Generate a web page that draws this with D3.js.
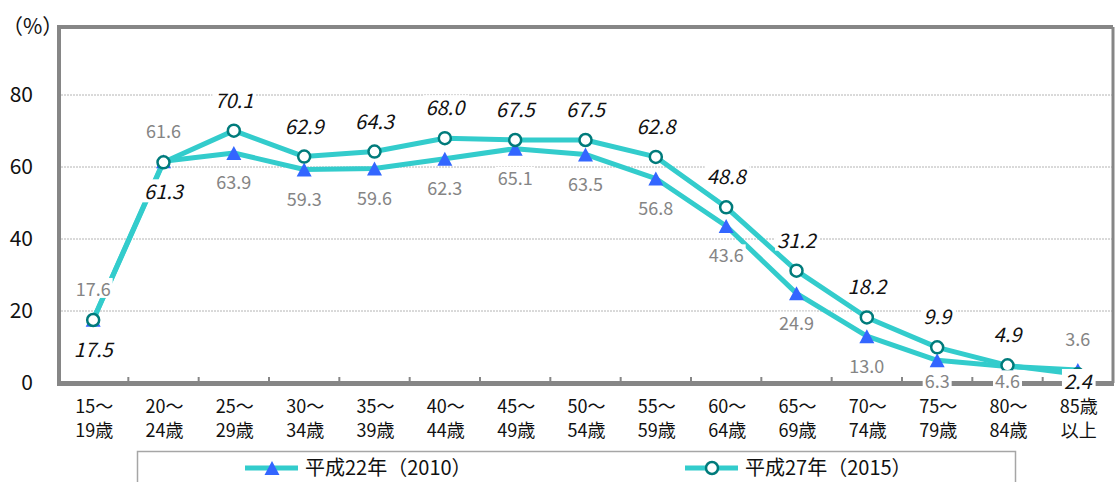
<!DOCTYPE html>
<html>
<head>
<meta charset="utf-8">
<script src="https://cdn.jsdelivr.net/npm/d3@7"></script>
<style>
  body { margin: 0; background: #fff; }
  svg { display: block; font-family: "Noto Sans CJK JP", "Noto Sans", sans-serif; }
</style>
</head>
<body>
<svg id="chart" width="1115" height="482"></svg>
<script>
// categories (two-line tick labels)
var ageTop = ["15～", "20～", "25～", "30～", "35～", "40～", "45～", "50～", "55～", "60～", "65～", "70～", "75～", "80～", "85歳"];
var ageBottom = ["19歳", "24歳", "29歳", "34歳", "39歳", "44歳", "49歳", "54歳", "59歳", "64歳", "69歳", "74歳", "79歳", "84歳", "以上"];

// series values (%)
var h22 = [17.6, 61.6, 63.9, 59.3, 59.6, 62.3, 65.1, 63.5, 56.8, 43.6, 24.9, 13.0, 6.3, 4.6, 3.6];
var h27 = [17.5, 61.3, 70.1, 62.9, 64.3, 68.0, 67.5, 67.5, 62.8, 48.8, 31.2, 18.2, 9.9, 4.9, 2.4];

var seriesNames = ["平成22年（2010）", "平成27年（2015）"];
var yTicks = [0, 20, 40, 60, 80];

// colours
var lineColour = '#33CCCC';
var triColour = '#3366FF';
var circleStroke = '#007B7B';
var frameColour = '#868686';
var gridColour = '#b4b4b4';
var grayText = '#858585';

// plot area
var plotLeft = 58, plotRight = 1113, plotTop = 27, plotBottom = 383;

var svg = d3.select("#chart");

var x = d3.scaleBand()
  .domain(d3.range(ageTop.length))
  .range([plotLeft, plotRight])
  .paddingInner(0).paddingOuter(0);
function cx(i) { return x(i) + x.bandwidth() / 2; }

var y = d3.scaleLinear().domain([0, 100]).range([plotBottom, plotBottom - 360]);

// gridlines
svg.append("g").selectAll("line")
  .data(yTicks.filter(function (d) { return d > 0; }))
  .enter().append("line")
  .attr("x1", plotLeft).attr("x2", plotRight)
  .attr("y1", function (d) { return y(d); })
  .attr("y2", function (d) { return y(d); })
  .attr("stroke", gridColour)
  .attr("stroke-width", 1)
  .attr("stroke-dasharray", "2,1");

// y tick labels
svg.append("g").selectAll("text")
  .data(yTicks)
  .enter().append("text")
  .attr("x", 33)
  .attr("y", function (d) { return y(d); })
  .attr("dy", "0.35em")
  .attr("text-anchor", "end")
  .attr("font-size", 21)
  .attr("fill", "#111")
  .text(function (d) { return d; });

svg.append("text")
  .attr("x", 2).attr("y", plotTop).attr("dy", "0.35em")
  .attr("font-size", 21).attr("fill", "#111")
  .text("（%）");

// frame
svg.append("line").attr("x1", plotLeft).attr("x2", plotRight).attr("y1", plotTop).attr("y2", plotTop)
  .attr("stroke", frameColour).attr("stroke-width", 4);
svg.append("line").attr("x1", plotRight).attr("x2", plotRight).attr("y1", plotTop).attr("y2", plotBottom)
  .attr("stroke", frameColour).attr("stroke-width", 3);
svg.append("line").attr("x1", plotLeft + 1).attr("x2", plotLeft + 1).attr("y1", plotTop - 2).attr("y2", plotBottom + 3)
  .attr("stroke", frameColour).attr("stroke-width", 4);
svg.append("line").attr("x1", plotLeft - 1).attr("x2", plotRight + 1).attr("y1", plotBottom + 0.5).attr("y2", plotBottom + 0.5)
  .attr("stroke", frameColour).attr("stroke-width", 5);

// x ticks (inside, at category boundaries)
svg.append("g").selectAll("line")
  .data(d3.range(1, ageTop.length))
  .enter().append("line")
  .attr("x1", function (i) { return x(i); })
  .attr("x2", function (i) { return x(i); })
  .attr("y1", plotBottom - 6).attr("y2", plotBottom)
  .attr("stroke", frameColour).attr("stroke-width", 2);

// x tick labels
var xl = svg.append("g").selectAll("text")
  .data(d3.range(ageTop.length))
  .enter().append("text")
  .attr("text-anchor", "middle")
  .attr("font-size", 18)
  .attr("fill", "#111");
xl.append("tspan").attr("x", function (i) { return cx(i) + 1; }).attr("y", 407).attr("dy", "0.35em").text(function (i) { return ageTop[i]; });
xl.append("tspan").attr("x", function (i) { return cx(i) + 1; }).attr("y", 431).attr("dy", "0.35em").text(function (i) { return ageBottom[i]; });

// lines
var line = d3.line()
  .x(function (d, i) { return cx(i); })
  .y(function (d) { return y(d); });

[h22, h27].forEach(function (s) {
  svg.append("path")
    .datum(s)
    .attr("d", line)
    .attr("fill", "none")
    .attr("stroke", lineColour)
    .attr("stroke-width", 5)
    .attr("stroke-linejoin", "round");
});

function triPath(px, py, w, h) {
  return "M" + px + "," + (py - h / 2) + "L" + (px + w / 2) + "," + (py + h / 2) + "L" + (px - w / 2) + "," + (py + h / 2) + "Z";
}

svg.append("g").selectAll("path")
  .data(h22)
  .enter().append("path")
  .attr("d", function (d, i) { return triPath(cx(i), y(d), 15, 14); })
  .attr("fill", triColour);

svg.append("g").selectAll("circle")
  .data(h27)
  .enter().append("circle")
  .attr("cx", function (d, i) { return cx(i); })
  .attr("cy", function (d) { return y(d); })
  .attr("r", 6)
  .attr("fill", "#fff")
  .attr("stroke", circleStroke)
  .attr("stroke-width", 2.5);

// data labels with white boxes
var flipped = [0, 1, ageTop.length - 1];

function addLabels(data, above, offset, opts) {
  var g = svg.append("g");
  data.forEach(function (v, i) {
    var up = flipped.indexOf(i) > -1 ? !above : above;
    var px = cx(i);
    var py = y(v) + (up ? -offset : offset);
    if (py > 382) py = 382;
    var lg = g.append("g");
    var bg = lg.append("rect").attr("fill", "#fff");
    var t = lg.append("text")
      .attr("x", px).attr("y", py).attr("dy", "0.35em")
      .attr("text-anchor", "middle")
      .attr("font-size", opts.size)
      .attr("font-style", opts.italic ? "italic" : "normal")
      .attr("fill", opts.colour)
      .text(v.toFixed(1));
    var b = t.node().getBBox();
    if (b.x + b.width > 1112) {
      t.attr("x", px - (b.x + b.width - 1112));
      b = t.node().getBBox();
    }
    bg.attr("x", b.x - 2).attr("y", b.y + 3).attr("width", b.width + 4).attr("height", b.height - 6);
  });
}

addLabels(h22, false, 30, { size: 18, italic: false, colour: grayText });
addLabels(h27, true, 30, { size: 20, italic: true, colour: "#111" });

// legend
svg.append("rect")
  .attr("x", 137.5).attr("y", 451.5).attr("width", 878).attr("height", 45)
  .attr("fill", "#fff").attr("stroke", "#a6a6a6").attr("stroke-width", 1.5);

var legendX = [245, 685];
seriesNames.forEach(function (name, k) {
  var lx = legendX[k], ly = 468;
  svg.append("line").attr("x1", lx).attr("x2", lx + 53).attr("y1", ly).attr("y2", ly)
    .attr("stroke", lineColour).attr("stroke-width", 5);
  if (k === 0) {
    svg.append("path").attr("d", triPath(lx + 27, ly, 15, 14)).attr("fill", triColour);
  } else {
    svg.append("circle").attr("cx", lx + 27).attr("cy", ly).attr("r", 6)
      .attr("fill", "#fff").attr("stroke", circleStroke).attr("stroke-width", 2.5);
  }
  svg.append("text").attr("x", lx + 60).attr("y", ly).attr("dy", "0.35em")
    .attr("font-size", 20).attr("fill", "#111")
    .text(name);
});
</script>
</body>
</html>
